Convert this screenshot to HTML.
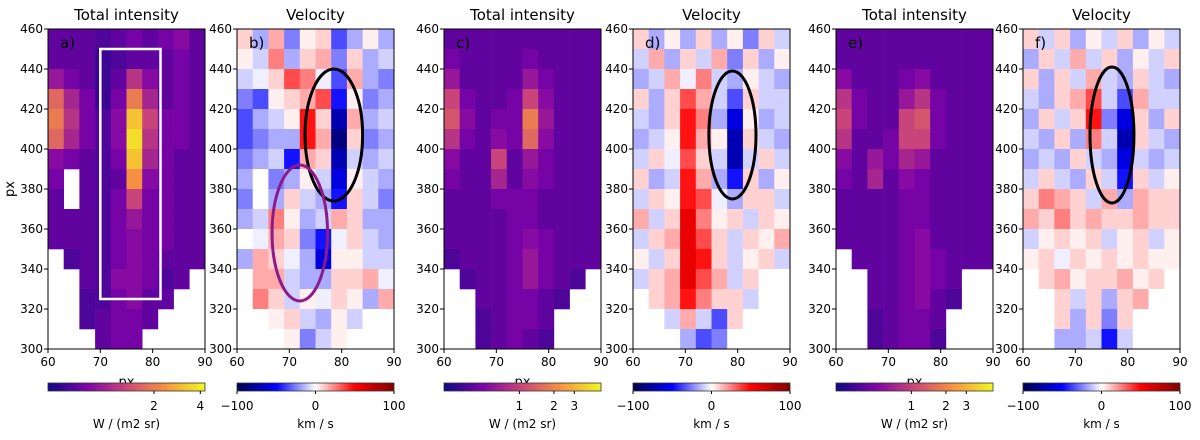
<!DOCTYPE html>
<html><head><meta charset="utf-8">
<style>
body{margin:0;background:#fff;font-family:"Liberation Sans",sans-serif;}
svg text{font-family:"DejaVu Sans","Liberation Sans",sans-serif;}
</style></head>
<body>
<svg id="fig" width="1200" height="435" viewBox="0 0 1200 435" xmlns="http://www.w3.org/2000/svg">
<defs>
<linearGradient id="plasma" x1="0" x2="1" y1="0" y2="0">
<stop offset="0" stop-color="#0d0887"/><stop offset="0.25" stop-color="#7e03a8"/><stop offset="0.5" stop-color="#cc4778"/><stop offset="0.75" stop-color="#f89540"/><stop offset="1" stop-color="#f0f921"/>
</linearGradient>
<linearGradient id="seismic" x1="0" x2="1" y1="0" y2="0">
<stop offset="0" stop-color="#00004c"/><stop offset="0.25" stop-color="#0000ff"/><stop offset="0.5" stop-color="#ffffff"/><stop offset="0.75" stop-color="#ff0000"/><stop offset="1" stop-color="#800000"/>
</linearGradient>
</defs>
</svg>
<script>
// x columns: 60..90 step 3 ; rows top 460..310 step 10
const xCats=[60,63,66,69,72,75,78,81,84,87];
const yRows=[460,450,440,430,420,410,400,390,380,370,360,350,340,330,320,310];
const xTicks=[60,70,80,90];
const yTicks=[300,320,340,360,380,400,420,440,460];
const intA=[
[.3,.3,.3,.25,.3,.35,.3,.35,.4,.3],
[.3,.3,.3,.2,.25,.3,.3,.3,.35,.3],
[.45,.35,.3,.2,.3,.55,.4,.3,.35,.3],
[.7,.5,.35,.2,.35,.75,.5,.3,.35,.3],
[.75,.55,.35,.25,.4,.9,.6,.35,.35,.3],
[.7,.5,.35,.25,.4,.95,.55,.35,.35,.3],
[.4,.35,.3,.25,.35,.9,.5,.35,.3,.3],
[.35,0,.3,.25,.3,.8,.4,.35,.3,.3],
[.3,0,.3,.25,.35,.6,.35,.35,.3,.3],
[.3,.3,.3,.25,.35,.45,.35,.35,.3,.3],
[.3,.3,.3,.25,.35,.4,.35,.35,.3,.3],
[0,.25,.3,.25,.35,.4,.35,.3,.3,.3],
[0,0,.3,.25,.4,.4,.35,.25,.3,0],
[0,0,.25,.25,.35,.4,.3,.3,0,0],
[0,0,.25,.3,.35,.35,.3,0,0,0],
[0,0,0,.3,.35,.35,0,0,0,0]];
const intC=[
[.3,.3,.3,.3,.3,.3,.3,.3,.3,.3],
[.35,.3,.3,.3,.3,.35,.3,.3,.3,.3],
[.45,.3,.3,.3,.3,.45,.35,.3,.3,.3],
[.6,.35,.3,.3,.35,.6,.4,.3,.3,.3],
[.65,.4,.3,.35,.35,.75,.45,.3,.3,.3],
[.55,.35,.3,.4,.35,.7,.4,.3,.3,.3],
[.4,.3,.3,.6,.3,.45,.35,.3,.3,.3],
[.35,.3,.3,.5,.3,.4,.35,.3,.3,.3],
[.3,.3,.3,.35,.35,.35,.3,.3,.3,.3],
[.3,.3,.3,.3,.35,.35,.3,.3,.3,.3],
[.3,.3,.3,.3,.35,.4,.35,.3,.3,.3],
[.25,.3,.3,.3,.35,.45,.35,.3,.3,.3],
[0,.25,.3,.3,.35,.45,.35,.3,.25,0],
[0,0,.3,.3,.35,.35,.3,.25,0,0],
[0,0,.25,.3,.35,.35,.3,0,0,0],
[0,0,.25,.3,.35,.3,.25,0,0,0]];
const intE=[
[.3,.3,.3,.3,.3,.3,.3,.3,.3,.3],
[.3,.3,.3,.3,.3,.3,.3,.3,.3,.3],
[.4,.3,.3,.3,.35,.4,.3,.3,.3,.3],
[.55,.35,.3,.3,.45,.55,.35,.3,.3,.3],
[.6,.35,.3,.3,.6,.65,.35,.3,.3,.3],
[.55,.3,.3,.35,.6,.6,.35,.3,.3,.3],
[.4,.3,.45,.35,.5,.45,.3,.3,.3,.3],
[.35,.3,.5,.3,.4,.35,.3,.3,.3,.3],
[.3,.3,.3,.3,.35,.35,.3,.3,.3,.3],
[.3,.3,.3,.3,.35,.35,.3,.3,.3,.3],
[.3,.3,.3,.3,.35,.4,.3,.3,.3,.3],
[0,.3,.3,.3,.35,.4,.35,.3,.3,.3],
[0,0,.3,.3,.35,.4,.35,.3,0,0],
[0,0,.3,.3,.35,.4,.3,.25,0,0],
[0,0,.25,.3,.35,.35,.3,0,0,0],
[0,0,.25,.3,.35,.35,.25,0,0,0]];
const velB=[
[.2,-.3,.3,-.4,.1,.2,-.5,-.3,.1,-.3],
[.1,-.2,.4,-.3,.2,.3,-.4,.2,-.3,-.2],
[-.2,-.1,.2,.5,.4,-.1,-.5,.3,-.3,-.4],
[-.4,-.5,.1,.2,.3,.5,-.6,.1,-.4,-.3],
[-.5,-.3,-.2,.1,.6,.2,-.8,.3,-.3,-.2],
[-.5,-.4,-.3,-.3,.6,.3,-.9,.2,-.4,-.3],
[-.4,-.3,-.2,-.6,.3,.2,-.8,-.2,-.3,-.2],
[-.3,0,-.4,-.3,.1,-.2,-.7,.1,-.2,-.3],
[-.4,0,-.3,.2,-.2,-.3,-.6,.2,-.2,-.4],
[-.3,-.2,.4,.1,-.3,-.2,.3,.2,-.3,-.3],
[0,-.1,.3,.2,-.4,-.6,-.1,.2,-.2,-.3],
[-.3,.3,.2,-.1,-.3,-.7,.1,.1,-.2,-.2],
[0,.3,.3,-.2,-.3,-.3,.2,.2,.3,-.1],
[0,.4,.2,-.2,.1,-.1,.2,.1,-.3,.3],
[0,0,.1,.2,-.2,-.3,.1,-.2,0,0],
[0,0,0,.1,-.4,-.2,.1,0,0,0]];
const velD=[
[.2,-.3,.1,-.3,.2,-.3,.1,-.4,.2,-.2],
[-.2,.3,-.3,.2,-.2,.3,-.4,.2,-.3,.1],
[-.3,-.2,.3,-.1,.4,-.2,-.3,.1,-.2,-.3],
[.2,-.3,.2,.5,.3,-.2,-.5,.2,-.2,-.2],
[-.2,-.3,.2,.6,.4,-.3,-.7,.1,-.3,-.2],
[-.3,-.2,.1,.6,.3,.1,-.8,.2,-.2,-.3],
[-.2,.2,-.1,.5,.2,-.2,-.8,-.2,.2,-.2],
[.2,-.3,-.2,.6,.3,-.3,-.6,.2,-.3,.1],
[-.2,.2,.1,.6,.5,-.1,-.3,.2,.2,-.2],
[.3,-.2,.2,.7,.4,.1,.2,-.2,.2,.1],
[-.2,.2,.3,.7,.5,.2,-.2,.2,.1,.3],
[.1,-.2,.2,.7,.6,.2,-.2,.1,.2,-.2],
[-.2,.2,.3,.7,.5,.3,-.2,.2,0,0],
[0,.2,.3,.6,.4,.2,.2,-.2,0,0],
[0,0,-.2,.3,-.2,-.5,.2,0,0,0],
[0,0,0,-.3,-.5,-.4,0,0,0,0]];
const velF=[
[.2,-.2,.2,-.3,.1,-.2,.2,-.3,.1,-.2],
[-.3,.2,-.2,.3,-.2,.2,-.3,.1,-.2,.2],
[.2,-.3,.2,-.2,.3,-.2,-.3,.2,-.2,-.3],
[-.2,-.3,.2,.3,.5,-.2,-.5,.3,-.2,-.2],
[-.3,.2,-.2,.2,.6,-.4,-.7,.2,-.3,.2],
[-.2,-.3,.2,-.3,.4,-.2,-.8,.2,-.2,-.3],
[-.3,-.2,-.3,.2,-.2,-.3,-.7,-.2,-.3,-.2],
[-.2,.2,-.2,-.3,.2,-.2,-.6,.2,-.2,.1],
[.2,.4,.3,.2,-.2,.3,-.3,.3,.2,.2],
[.3,.2,.4,.2,.3,.2,.2,.3,.2,.2],
[-.2,.1,.2,.1,.2,-.2,.1,.2,-.2,.1],
[.1,.2,-.1,.2,.1,.2,.1,.2,.1,.1],
[0,.2,.3,.1,.2,.2,.3,.1,.2,0],
[0,0,.2,-.2,.2,-.3,.2,.3,0,0],
[0,0,.2,-.3,.2,-.4,.2,0,0,0],
[0,0,-.3,-.3,-.2,-.6,-.2,0,0,0]];

const NS='http://www.w3.org/2000/svg';
const svg=document.getElementById('fig');
function mk(tag,attrs,parent){const e=document.createElementNS(NS,tag);for(const k in attrs)e.setAttribute(k,attrs[k]);(parent||svg).appendChild(e);return e;}
function lerpStops(stops,t){t=Math.max(0,Math.min(1,t));for(let i=0;i<stops.length-1;i++){const [a,ca]=stops[i],[b,cb]=stops[i+1];if(t<=b){const f=(t-a)/(b-a);return 'rgb('+ca.map((v,j)=>Math.round(v+(cb[j]-v)*f)).join(',')+')';}}return 'rgb('+stops[stops.length-1][1].join(',')+')';}
const plasma=[[0,[13,8,135]],[.25,[126,3,168]],[.5,[204,71,120]],[.75,[248,149,64]],[1,[240,249,33]]];
const seismic=[[0,[0,0,76]],[.25,[0,0,255]],[.5,[255,255,255]],[.75,[255,0,0]],[1,[128,0,0]]];
const intColor=v=>lerpStops(plasma,Math.pow(v,1.4));
const velColor=v=>lerpStops(seismic,(Math.sign(v)*Math.pow(Math.abs(v),1.5)+1)/2);
const Y0=29,Y1=349,W=157;
const panels=[
 {x:48,title:'Total intensity',lab:'a)',data:intA,type:'i',cb:[['2',.675],['4',.97]],unit:'W / (m2 sr)'},
 {x:237,title:'Velocity',lab:'b)',data:velB,type:'v',unit:'km / s'},
 {x:444,title:'Total intensity',lab:'c)',data:intC,type:'i',cb:[['1',.48],['2',.70],['3',.83]],unit:'W / (m2 sr)'},
 {x:633,title:'Velocity',lab:'d)',data:velD,type:'v',unit:'km / s'},
 {x:836,title:'Total intensity',lab:'e)',data:intE,type:'i',cb:[['1',.48],['2',.70],['3',.83]],unit:'W / (m2 sr)'},
 {x:1023,title:'Velocity',lab:'f)',data:velF,type:'v',unit:'km / s'}];
panels.forEach((p,pi)=>{
 const g=mk('g',{});
 
 
 const sx=v=>p.x+(v-60)/30*W, sy=v=>Y0+(460-v)/160*(Y1-Y0);
 p.data.forEach((row,ri)=>row.forEach((v,ci)=>{
  if(p.type==='i'&&v===0)return;
  const c=p.type==='i'?intColor(v):velColor(v);
  const r=mk('rect',{x:sx(xCats[ci]).toFixed(2),y:sy(yRows[ri]).toFixed(2),width:(sx(xCats[ci]+3)-sx(xCats[ci])+0.3).toFixed(2),height:(sy(yRows[ri]-10)-sy(yRows[ri])+0.3).toFixed(2),fill:c},g);
  
  
 }));
 const fr=mk('rect',{x:p.x,y:Y0,width:W,height:Y1-Y0,fill:'none',stroke:'#000','stroke-width':1},g);
 
 
 xTicks.forEach(t=>{mk('line',{x1:sx(t),x2:sx(t),y1:Y1,y2:Y1+4,stroke:'#000'},g);
  const tx=mk('text',{x:sx(t),y:Y1+17,'font-size':12,'text-anchor':'middle'},g);tx.textContent=t;
  
  });
 yTicks.forEach(t=>{mk('line',{x1:p.x-4,x2:p.x,y1:sy(t),y2:sy(t),stroke:'#000'},g);
  const tx=mk('text',{x:p.x-5,y:sy(t)+4,'font-size':12,'text-anchor':'end'},g);tx.textContent=t;
  
  });
 const ti=mk('text',{x:p.x+W/2,y:20,'font-size':15,'text-anchor':'middle'},g);ti.textContent=p.title;
 
 
 const lb=mk('text',{x:p.x+12,y:Y0+19,'font-size':15},g);lb.textContent=p.lab;
 
 
 if(p.type==='i'){const xl=mk('text',{x:p.x+W/2,y:386,'font-size':13,'text-anchor':'middle'},g);xl.textContent='px';
  
  }
 const cb=mk('rect',{x:p.x,y:383,width:W,height:8,fill:p.type==='i'?'url(#plasma)':'url(#seismic)',stroke:'#333','stroke-width':0.8},g);
 
 
 const ticks=p.type==='i'?p.cb:[['\u2212100',0],['0',.5],['100',1]];
 ticks.forEach(([s,f])=>{mk('line',{x1:p.x+f*W,x2:p.x+f*W,y1:391,y2:394,stroke:'#000'},g);
  const tx=mk('text',{x:p.x+f*W,y:410,'font-size':12,'text-anchor':'middle'},g);tx.textContent=s;
  
  });
 const un=mk('text',{x:p.x+W/2,y:428,'font-size':12,'text-anchor':'middle'},g);un.textContent=p.unit;
 
 
 p.sx=sx;p.sy=sy;p.g=g;
});
const yl=mk('text',{x:0,y:0,'font-size':13,'text-anchor':'middle',transform:'translate(14,189) rotate(-90)'});yl.textContent='px';


const pa=panels[0];
const box=mk('rect',{x:pa.sx(70),y:pa.sy(450),width:pa.sx(81.5)-pa.sx(70),height:pa.sy(325)-pa.sy(450),fill:'none',stroke:'#fff','stroke-width':2.5});


function ell(p,cx,cy,rx,ry,col,name){const e=mk('ellipse',{cx:p.sx(cx),cy:p.sy(cy),rx:p.sx(60+rx)-p.sx(60),ry:p.sy(460-ry)-p.sy(460),fill:'none',stroke:col,'stroke-width':3});
 
 }
ell(panels[1],78.5,407,5.5,33,'#000','black-ellipse-b');
ell(panels[1],72,358,5.3,34,'#8b1a8b','purple-ellipse-b');
ell(panels[3],79,407,4.5,32,'#000','black-ellipse-d');
ell(panels[5],77,407,4.2,34,'#000','black-ellipse-f');
</script>
</body></html>
